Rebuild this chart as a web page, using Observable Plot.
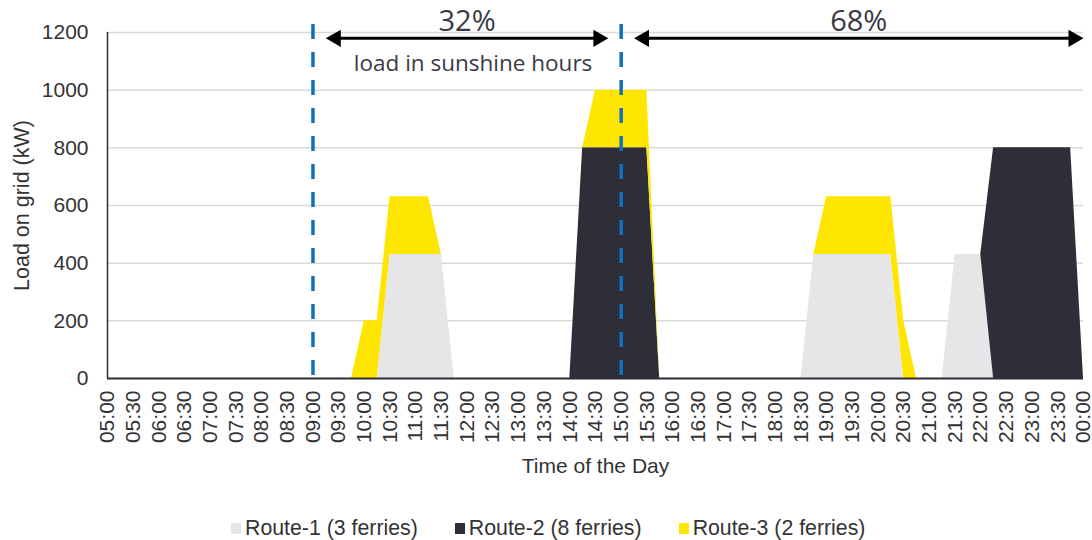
<!DOCTYPE html>
<html>
<head>
<meta charset="utf-8">
<script src="https://cdn.jsdelivr.net/npm/d3@7"></script>
<script src="https://cdn.jsdelivr.net/npm/@observablehq/plot@0.6"></script>
<style>
  body { margin: 0; background: #fff; }
  #chart { width: 1092px; height: 512px; }
  .legend {
    display: flex; align-items: center; height: 28px; margin-top: 2px; padding-left: 231px; gap: 37px;
    font-family: "Liberation Sans", Arial, sans-serif; font-size: 21.3px; color: #333;
  }
  .legend .item { display: flex; align-items: center; white-space: nowrap; }
  .legend .sw { display: inline-block; width: 10px; height: 11px; margin-right: 4px; }
</style>
</head>
<body>
<div id="chart"></div>
<div class="legend" id="legend"></div>
<script>
// Grid load per route, one value per quarter hour from 05:00 to 00:00 (kW)
const routes = ["Route-1 (3 ferries)", "Route-2 (8 ferries)", "Route-3 (2 ferries)"];
const routeColors = ["#E6E6E9", "#2E2E38", "#FFE600"];

//                05       06       07       08       09       10               11              12       13       14               15              16       17       18             19                  20               21             22             23       00
const route1 = [0,0,0,0, 0,0,0,0, 0,0,0,0, 0,0,0,0, 0,0,0,0, 0,0,430,430, 430,430,430,0, 0,0,0,0, 0,0,0,0, 0,0,0,0, 0,0,0,0, 0,0,0,0, 0,0,0,0, 0,0,0,430, 430,430,430,430, 430,430,0,0, 0,0,430,430, 430,0,0,0, 0,0,0,0, 0];
const route2 = [0,0,0,0, 0,0,0,0, 0,0,0,0, 0,0,0,0, 0,0,0,0, 0,0,0,0, 0,0,0,0, 0,0,0,0, 0,0,0,0, 0,800,800,800, 800,800,800,0, 0,0,0,0, 0,0,0,0, 0,0,0,0, 0,0,0,0, 0,0,0,0, 0,0,0,0, 0,800,800,800, 800,800,800,800, 0];
const route3 = [0,0,0,0, 0,0,0,0, 0,0,0,0, 0,0,0,0, 0,0,0,0, 200,200,200,200, 200,200,0,0, 0,0,0,0, 0,0,0,0, 0,0,200,200, 200,200,200,0, 0,0,0,0, 0,0,0,0, 0,0,0,0, 200,200,200,200, 200,200,200,0, 0,0,0,0, 0,0,0,0, 0,0,0,0, 0];
const routeSeries = [route1, route2, route3];

const tickLabels = ["05:00","05:30","06:00","06:30","07:00","07:30","08:00","08:30","09:00","09:30",
  "10:00","10:30","11:00","11:30","12:00","12:30","13:00","13:30","14:00","14:30","15:00","15:30",
  "16:00","16:30","17:00","17:30","18:00","18:30","19:00","19:30","20:00","20:30","21:00","21:30",
  "22:00","22:30","23:00","23:30","00:00"];
const yTicks = [0, 200, 400, 600, 800, 1000, 1200];

// Sunshine window boundaries and the share of load on either side
const sunshineBounds = ["09:00", "15:00"];
const spans = [
  {from: "09:15", to: "14:45", share: "32%", note: "load in sunshine hours"},
  {from: "15:15", to: "00:00", share: "68%", note: ""}
];
const arrowLevel = 1180;

const firstSlot = 5, slotsPerHour = 4;
const hourOf = s => { const [h, m] = s.split(":").map(Number); return (h === 0 ? 24 : h) + m / 60; };
const labelByHour = new Map(tickLabels.map(t => [hourOf(t), t]));

const rows = [];
routes.forEach((route, k) =>
  routeSeries[k].forEach((kW, i) => rows.push({route, hour: firstSlot + i / slotsPerHour, kW})));

const spanRows = spans.map(s => ({...s, x1: hourOf(s.from), x2: hourOf(s.to)}));

const ink = "#2E2E38";
const chart = Plot.plot({
  width: 1092, height: 512,
  marginLeft: 107, marginRight: 9, marginTop: 32, marginBottom: 134,
  style: {fontFamily: "'Liberation Sans', Arial, sans-serif", fontSize: "21px", color: "#333", background: "#fff", overflow: "visible"},
  x: {domain: [5, 24]},
  y: {domain: [0, 1200]},
  color: {domain: routes, range: routeColors},
  marks: [
    Plot.gridY(yTicks, {stroke: "#D9D9D9", strokeOpacity: 1, strokeWidth: 1.5}),
    Plot.areaY(rows, {x: "hour", y: "kW", z: "route", fill: "route"}),
    Plot.ruleX(sunshineBounds, {x: hourOf, y1: 1228, y2: 0, stroke: "#1070C0", strokeWidth: 3.5, strokeDasharray: "15,13"}),
    Plot.axisY({ticks: yTicks, tickFormat: d3.format("d"), tickSize: 0, tickPadding: 19, label: null}),
    Plot.axisY({ticks: [], label: "Load on grid (kW)", labelAnchor: "center", labelArrow: "none", labelOffset: 94, fontSize: 21.5}),
    Plot.axisX({ticks: [...labelByHour.keys()], tickFormat: d => labelByHour.get(d), tickRotate: -90, tickSize: 0, tickPadding: 12,
      label: "Time of the Day", labelAnchor: "center", labelArrow: "none", labelOffset: 94}),
    Plot.ruleY([0], {stroke: ink, strokeWidth: 2}),
    Plot.ruleX([5], {y1: 0, y2: 1200, stroke: ink, strokeWidth: 1.5}),
    // double-headed arrows marking the two shares
    Plot.ruleY(spanRows, {x1: "x1", x2: "x2", y: arrowLevel, stroke: "#000", strokeWidth: 3, insetLeft: 12, insetRight: 12}),
    Plot.dot(spanRows, {x: "x1", y: arrowLevel, symbol: "triangle", r: 6.4, fill: "#000", rotate: -90, dx: 10}),
    Plot.dot(spanRows, {x: "x2", y: arrowLevel, symbol: "triangle", r: 6.4, fill: "#000", rotate: 90, dx: -10}),
    Plot.text(spanRows, {x: d => (d.x1 + d.x2) / 2, y: arrowLevel, text: "share", dy: -17, fontSize: 29,
      fontFamily: "'Open Sans', sans-serif", fill: "#3A3A44"}),
    Plot.text(spanRows, {x: d => (d.x1 + d.x2) / 2, y: arrowLevel, text: "note", dx: 6, dy: 26, fontSize: 22.5,
      fontFamily: "'Open Sans', sans-serif", fill: "#3A3A44"})
  ]
});
document.getElementById("chart").append(chart);

const legend = document.getElementById("legend");
routes.forEach((r, k) => {
  const item = document.createElement("div");
  item.className = "item";
  const sw = document.createElement("span");
  sw.className = "sw";
  sw.style.background = routeColors[k];
  item.append(sw, document.createTextNode(r));
  legend.append(item);
});
</script>
</body>
</html>
